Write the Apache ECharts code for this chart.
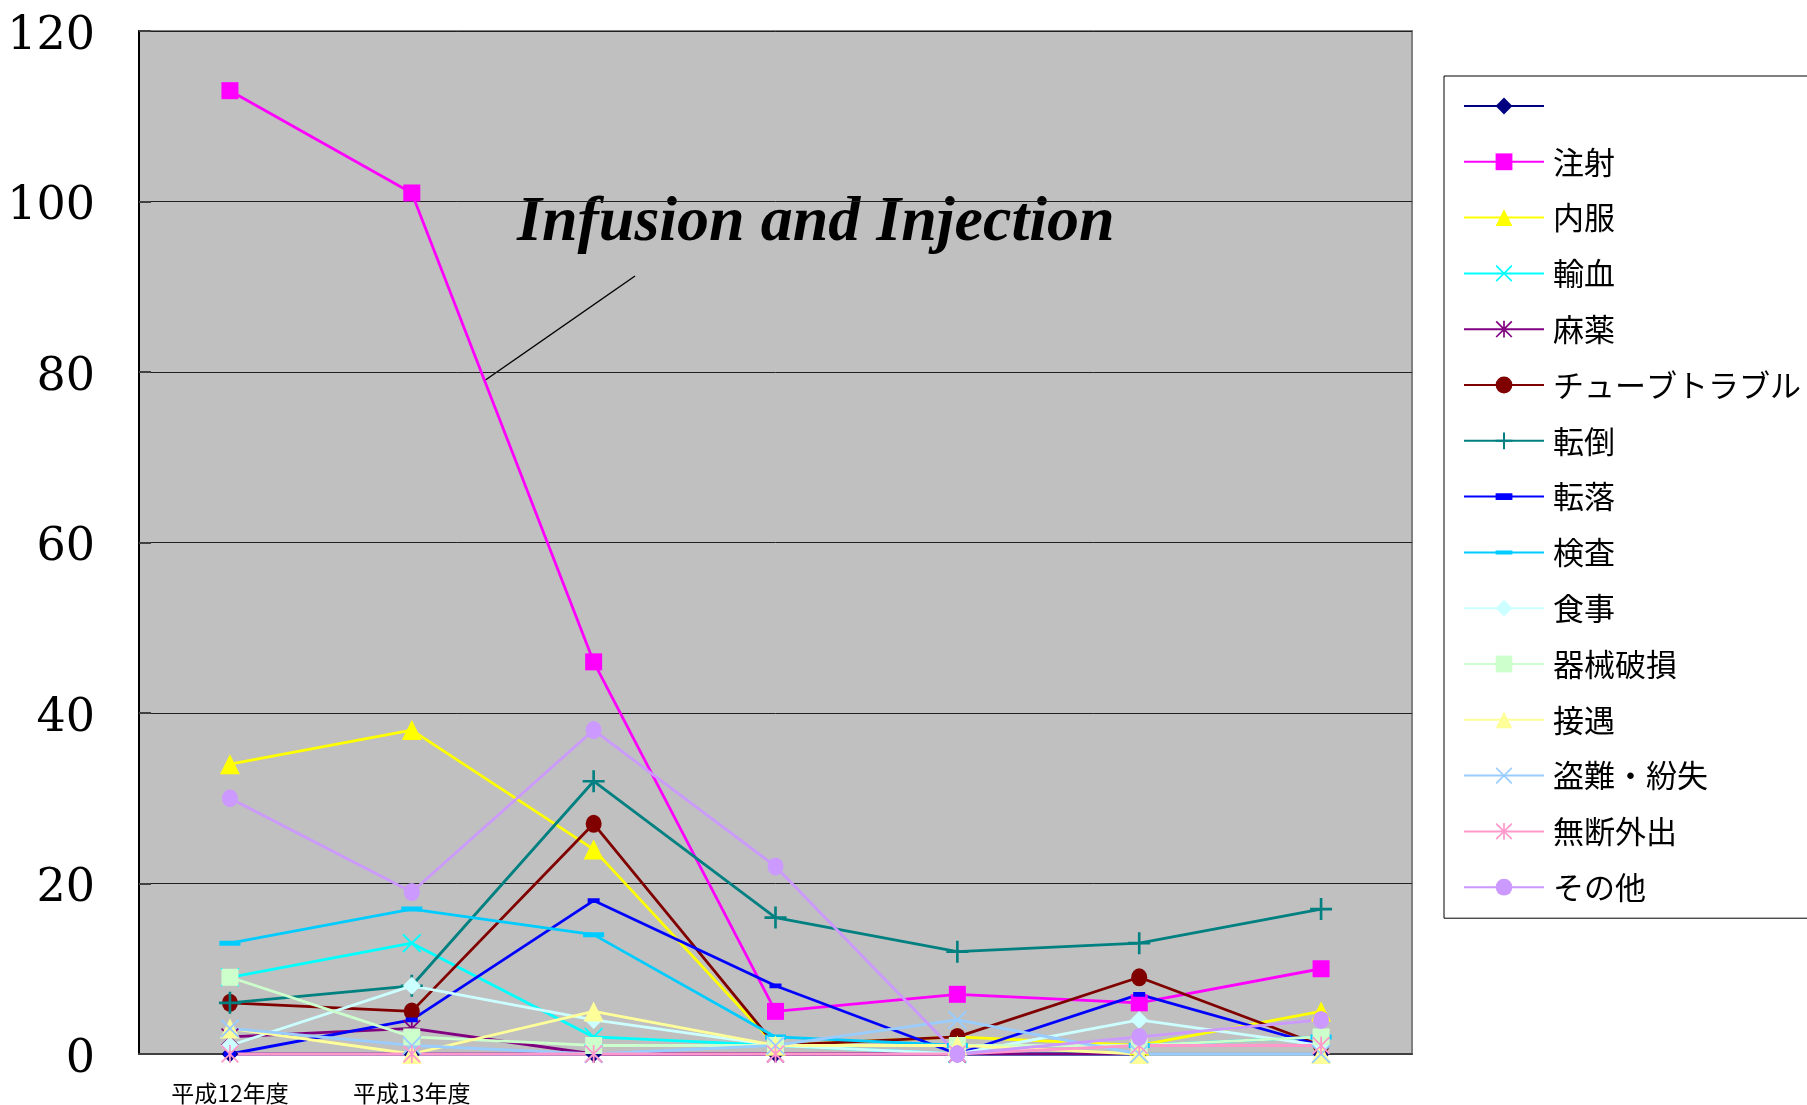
<!DOCTYPE html>
<html>
<head>
<meta charset="utf-8">
<script src="https://cdn.jsdelivr.net/npm/echarts@6/dist/echarts.min.js"></script>
<style>
  html, body { margin: 0; padding: 0; background: #fff; }
  #chart { width: 1807px; height: 1105px; }
</style>
</head>
<body>
<div id="chart"></div>
<script>
// categories on the x axis (only the first two carry a label)
const categories = ['平成12年度', '平成13年度', '', '', '', '', '']

// incident counts per category
const blankValues = [0, 0, 0, 0, 0, 0, 0]
const injectionValues = [113, 101, 46, 5, 7, 6, 10]
const oralValues = [34, 38, 24, 1, 2, 1, 5]
const transfusionValues = [9, 13, 2, 1, 0, 0, 0]
const narcoticValues = [2, 3, 0, 0, 0, 0, 0]
const tubeValues = [6, 5, 27, 1, 2, 9, 1]
const fallValues = [6, 8, 32, 16, 12, 13, 17]
const tumbleValues = [0, 4, 18, 8, 0, 7, 1]
const examValues = [13, 17, 14, 2, 1, 1, 2]
const mealValues = [1, 8, 4, 1, 0, 4, 1]
const equipmentValues = [9, 2, 1, 1, 1, 1, 2]
const serviceValues = [3, 0, 5, 1, 1, 0, 0]
const theftValues = [3, 1, 0, 1, 4, 0, 0]
const absenceValues = [0, 0, 0, 0, 0, 1, 1]
const otherValues = [30, 19, 38, 22, 0, 2, 4]

const seriesNames = [' ', '注射', '内服', '輸血', '麻薬', 'チューブトラブル', '転倒', '転落', '検査',
  '食事', '器械破損', '接遇', '盗難・紛失', '無断外出', 'その他']
const seriesValues = [blankValues, injectionValues, oralValues, transfusionValues, narcoticValues,
  tubeValues, fallValues, tumbleValues, examValues, mealValues, equipmentValues, serviceValues,
  theftValues, absenceValues, otherValues]

// marker shapes (thin sliver keeps dashes flat inside a square box)
const xPath = 'path://M7,0 L50,43 L93,0 L100,7 L57,50 L100,93 L93,100 L50,57 L7,100 L0,93 L43,50 L0,7 Z'
const starPath = xPath + ' M45,0 L55,0 L55,100 L45,100 Z'
const plusPath = 'path://M44,0 L56,0 L56,44 L100,44 L100,56 L56,56 L56,100 L44,100 L44,56 L0,56 L0,44 L44,44 Z'
const sliver = ' M50,0 L50.01,0 L50.01,100 L50,100 Z'
const shortDash = 'path://M0,30 L100,30 L100,70 L0,70 Z' + sliver
const longDash = 'path://M0,38 L100,38 L100,62 L0,62 Z' + sliver

const styles = [
  { color: '#000080', symbol: 'diamond', size: 17 },
  { color: '#FF00FF', symbol: 'rect', size: 17 },
  { color: '#FFFF00', symbol: 'triangle', size: 20 },
  { color: '#00FFFF', symbol: xPath, size: 19 },
  { color: '#800080', symbol: starPath, size: 18 },
  { color: '#800000', symbol: 'circle', size: [16, 18] },
  { color: '#008080', symbol: plusPath, size: 22 },
  { color: '#0000FF', symbol: shortDash, size: 12 },
  { color: '#00CCFF', symbol: longDash, size: 21 },
  { color: '#CCFFFF', symbol: 'diamond', size: 18 },
  { color: '#CCFFCC', symbol: 'rect', size: 17 },
  { color: '#FFFF99', symbol: 'triangle', size: 20 },
  { color: '#99CCFF', symbol: xPath, size: 19 },
  { color: '#FF99CC', symbol: starPath, size: 18 },
  { color: '#CC99FF', symbol: 'circle', size: [16, 18] },
]

const chart = echarts.init(document.getElementById('chart'))
chart.setOption({
  animation: false,
  grid: {
    left: 139, right: 395, top: 31, bottom: 50.5,
    show: true,
    backgroundColor: '#C0C0C0',
    borderColor: '#808080',
    borderWidth: 2,
  },
  legend: {
    orient: 'vertical',
    left: 1444,
    top: 76,
    padding: [13, 30, 14, 19],
    itemWidth: 80,
    itemHeight: 21,
    itemGap: 21.8,
    borderColor: '#000',
    borderWidth: 1,
    backgroundColor: '#fff',
    selectedMode: false,
    textStyle: {
      fontFamily: 'Noto Sans CJK JP',
      fontSize: 31,
      lineHeight: 34,
      color: '#000',
      padding: [0, 0, 0, 4],
    },
    data: seriesNames,
  },
  graphic: [
    {
      type: 'text',
      left: 517,
      top: 191,
      style: {
        text: 'Infusion and Injection',
        font: 'italic bold 64px "Liberation Serif"',
        fill: '#000',
      },
    },
    {
      type: 'line',
      shape: { x1: 635, y1: 276, x2: 484, y2: 381 },
      style: { stroke: '#000', lineWidth: 1.5 },
    },
  ],
  xAxis: {
    type: 'category',
    data: categories,
    boundaryGap: true,
    axisLine: { lineStyle: { color: '#404040', width: 2 } },
    axisTick: { inside: true, length: 7, interval: 0, lineStyle: { color: '#404040', width: 1.5 } },
    axisLabel: {
      interval: 0,
      margin: 28,
      fontFamily: 'Noto Sans CJK JP',
      fontSize: 23,
      color: '#000',
    },
  },
  yAxis: {
    type: 'value',
    min: 0,
    max: 120,
    interval: 20,
    axisLine: { show: true, lineStyle: { color: '#000', width: 2 } },
    axisTick: { show: true, inside: true, length: 12, lineStyle: { color: '#404040', width: 2 } },
    axisLabel: {
      margin: 44,
      formatter: '{n|{value}}',
      rich: {
        n: {
          fontFamily: 'DejaVu Serif',
          fontSize: 46,
          color: '#000',
          padding: [12, 0, 0, 0],
        },
      },
    },
    splitLine: { show: true, lineStyle: { color: '#202020', width: 1 } },
  },
  series: seriesNames.map((name, i) => ({
    name,
    type: 'line',
    data: seriesValues[i],
    color: styles[i].color,
    symbol: styles[i].symbol,
    symbolSize: styles[i].size,
    showAllSymbol: true,
    clip: false,
    lineStyle: { width: 2.8, color: styles[i].color },
    itemStyle: { color: styles[i].color, borderWidth: 0 },
    emphasis: { disabled: true },
  })),
})
</script>
</body>
</html>
